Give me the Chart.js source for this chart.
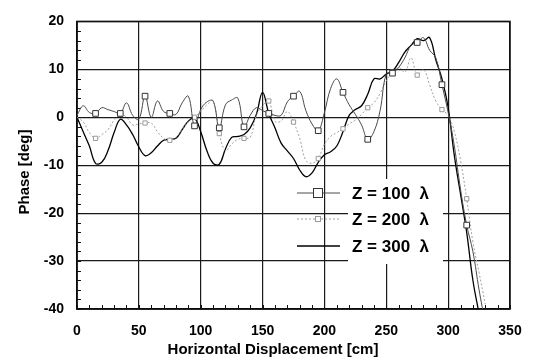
<!DOCTYPE html>
<html>
<head>
<meta charset="utf-8">
<script src="https://cdn.jsdelivr.net/npm/chart.js@4/dist/chart.umd.min.js"></script>
<style>
  body { margin: 0; background: #fff; }
</style>
</head>
<body>
<canvas id="myChart" width="538" height="364"></canvas>
<script>
// horizontal displacement, cm (every 5 cm)
var xCm = [0, 5, 10, 15, 20, 25, 30, 35, 40, 45, 50, 55, 60, 65, 70, 75, 80, 85, 90, 95,
  100, 105, 110, 115, 120, 125, 130, 135, 140, 145, 150, 155, 160, 165, 170, 175, 180, 185, 190, 195,
  200, 205, 210, 215, 220, 225, 230, 235, 240, 245, 250, 255, 260, 265, 270, 275, 280, 285, 290, 295,
  300, 305, 310, 315, 320, 325, 330]

// phase [deg]
var z100 = [0.4, 2.4, 1.0, 0.8, 2.0, 1.6, 1.2, 0.8, 3.0, 0.4, -0.4, 4.4, 0, 3.4, 1.2, 0.8, 0.6, 3.0, 4.4, -1.8,
  1.6, 3.2, 3.4, -2.2, 2.6, 3.6, 4.0, -2.0, 0.4, 2.0, 1.4, 0.8, 0.4, 0.4, 3.2, 4.4, 5.4, 1.4, -1.4, -2.8,
  1.0, 6.0, 8.0, 5.2, 2.6, 0.6, -1.6, -4.6, -3.0, 1.4, 9.0, 9.2, 10.4, 12.4, 15.0, 15.6, 16.6, 14.0, 12.4, 6.8,
  1.0, -6.0, -15.0, -22.5, -28.0, -36.0, -43.0]

var z200 = [0, -1, -3.2, -4.4, -3.6, -2.6, -0.6, 0.6, 0, -1.6, -1.4, -1.2, -1.2, -3, -4.4, -4.8, -4.2, -2.6, -1, 0,
  1.2, 2.6, 3.4, -3.4, -7, -5.6, -4.6, -4.4, -4.2, 0.4, 2.4, 3.4, -0.8, -0.8, 1.2, -1, -4.4, -9, -9.6, -8.6,
  -5.6, -4, -3.2, -2.4, -1.4, -0.6, 0.6, 2, 3, 5, 7.6, 9.4, 10.4, 9.4, 12.4, 8.8, 10, 6.8, 3.4, 1.6,
  0.4, -3, -9, -17, -26, -32.4, -39]

var z300 = [0, -3, -6, -9.6, -9.4, -7, -3.2, -0.4, -1.6, -3.6, -6.2, -8, -7.4, -6, -4.8, -4.6, -4.4, -2.6, -0.8, -0.2,
  -3, -7, -9.6, -9.8, -6.6, -4.2, -4, -3.6, -2.2, 0.6, 5.2, 0.8, -2.2, -5.4, -7, -8.6, -11, -12.4, -11.6, -9.4,
  -7.8, -7.2, -6, -3, 0.4, 1.6, 2.4, 4.8, 8, 8, 9, 9.6, 11.4, 13.6, 15, 16.4, 16, 16.6, 12, 8,
  2, -8, -16, -24, -34, -41, -48]

var seriesNames = ['Z = 100  \u03bb', 'Z = 200  \u03bb', 'Z = 300  \u03bb']
var xTicks = [0, 50, 100, 150, 200, 250, 300, 350]
var yTicks = [-40, -30, -20, -10, 0, 10, 20]

function pts(ys) {
  return ys.map(function (y, i) { return { x: xCm[i], y: y } })
}
// a marker every 20 cm, starting at 15 cm
function markerRadius(r) {
  return xCm.map(function (x) { return (x - 15) % 20 === 0 && x <= 315 ? r : 0 })
}

var boldFont = 'bold 14px "Liberation Sans", Arial, sans-serif'

var extras = {
  id: 'extras',
  beforeDatasetsDraw: function (chart) {
    var ctx = chart.ctx
    var xs = chart.scales.x, ys = chart.scales.y
    var a = chart.chartArea
    ctx.save()
    ctx.strokeStyle = '#111'
    ctx.lineWidth = 1
    // minor ticks
    for (var v = -40; v <= 20; v += 2) {
      var py = Math.round(ys.getPixelForValue(v)) + 0.5
      ctx.beginPath(); ctx.moveTo(a.left, py); ctx.lineTo(a.left + 4, py); ctx.stroke()
    }
    for (var h = 0; h <= 350; h += 10) {
      var px = Math.round(xs.getPixelForValue(h)) + 0.5
      ctx.beginPath(); ctx.moveTo(px, a.bottom); ctx.lineTo(px, a.bottom - 4); ctx.stroke()
    }
    ctx.lineWidth = 1.5
    ctx.strokeRect(a.left, a.top, a.right - a.left, a.bottom - a.top)
    ctx.restore()
  },
  afterDatasetsDraw: function (chart) {
    var ctx = chart.ctx
    ctx.save()
    // legend
    ctx.fillStyle = '#fff'
    ctx.fillRect(348, 179, 95, 85)
    var rows = [193, 219, 246]
    chart.data.datasets.forEach(function (ds, i) {
      var y = rows[i]
      ctx.strokeStyle = ds.borderColor
      ctx.lineWidth = ds.borderWidth
      ctx.setLineDash(ds.borderDash || [])
      ctx.beginPath(); ctx.moveTo(297, y); ctx.lineTo(340, y); ctx.stroke()
      ctx.setLineDash([])
      if (ds.legendMarker) {
        var r = ds.legendMarker
        ctx.fillStyle = '#fff'
        ctx.fillRect(318 - r, y - r, 2 * r, 2 * r)
        ctx.strokeStyle = ds.pointBorderColor
        ctx.lineWidth = 1
        ctx.strokeRect(318 - r + 0.5, y - r + 0.5, 2 * r - 1, 2 * r - 1)
      }
      ctx.fillStyle = '#000'
      ctx.font = 'bold 17px "Liberation Sans", Arial, sans-serif'
      ctx.textBaseline = 'middle'
      ctx.textAlign = 'left'
      ctx.fillText(seriesNames[i], 352, y + 1)
    })
    // axis titles
    ctx.font = 'bold 15px "Liberation Sans", Arial, sans-serif'
    ctx.fillStyle = '#000'
    ctx.textAlign = 'center'
    ctx.textBaseline = 'middle'
    ctx.fillText('Horizontal Displacement [cm]', 273, 350)
    ctx.translate(25, 172)
    ctx.rotate(-Math.PI / 2)
    ctx.fillText('Phase [deg]', 0, 0)
    ctx.restore()
  }
}

var myChartRef = document.getElementById('myChart').getContext('2d')
new Chart(myChartRef, {
  type: 'line',
  data: {
    datasets: [
      {
        label: seriesNames[0],
        data: pts(z100),
        borderColor: '#4a4a4a',
        borderWidth: 1,
        tension: 0.4,
        pointStyle: 'rect',
        pointRadius: markerRadius(4),
        pointBackgroundColor: '#fff',
        pointBorderColor: '#333',
        pointBorderWidth: 1,
        legendMarker: 5
      },
      {
        label: seriesNames[1],
        data: pts(z200),
        borderColor: '#a0a0a0',
        borderWidth: 1,
        borderDash: [2, 2],
        tension: 0.4,
        pointStyle: 'rect',
        pointRadius: markerRadius(3),
        pointBackgroundColor: '#fff',
        pointBorderColor: '#999',
        pointBorderWidth: 1,
        legendMarker: 3
      },
      {
        label: seriesNames[2],
        data: pts(z300),
        borderColor: '#000',
        borderWidth: 1.3,
        tension: 0.4,
        pointRadius: 0
      }
    ]
  },
  options: {
    responsive: false,
    animation: false,
    layout: { padding: { top: 10, right: 28, left: 0, bottom: 0 } },
    plugins: { legend: { display: false }, tooltip: { enabled: false } },
    scales: {
      x: {
        type: 'linear',
        min: 0, max: 350,
        afterFit: function (s) { s.height = 55 },
        afterBuildTicks: function (s) { s.ticks = xTicks.map(function (v) { return { value: v } }) },
        grid: { color: '#1a1a1a', lineWidth: 1.2, drawTicks: false },
        border: { color: '#000', width: 1.5 },
        ticks: { color: '#000', padding: 14, maxRotation: 0, font: { family: '"Liberation Sans", Arial, sans-serif', size: 14, weight: 'bold' } }
      },
      y: {
        min: -40, max: 20,
        afterFit: function (s) { s.width = 77 },
        afterBuildTicks: function (s) { s.ticks = yTicks.map(function (v) { return { value: v } }) },
        grid: { color: '#1a1a1a', lineWidth: 1.2, drawTicks: false },
        border: { color: '#000', width: 1.5 },
        ticks: { color: '#000', padding: 13, font: { family: '"Liberation Sans", Arial, sans-serif', size: 14, weight: 'bold' } }
      }
    }
  },
  plugins: [extras]
})
</script>
</body>
</html>
